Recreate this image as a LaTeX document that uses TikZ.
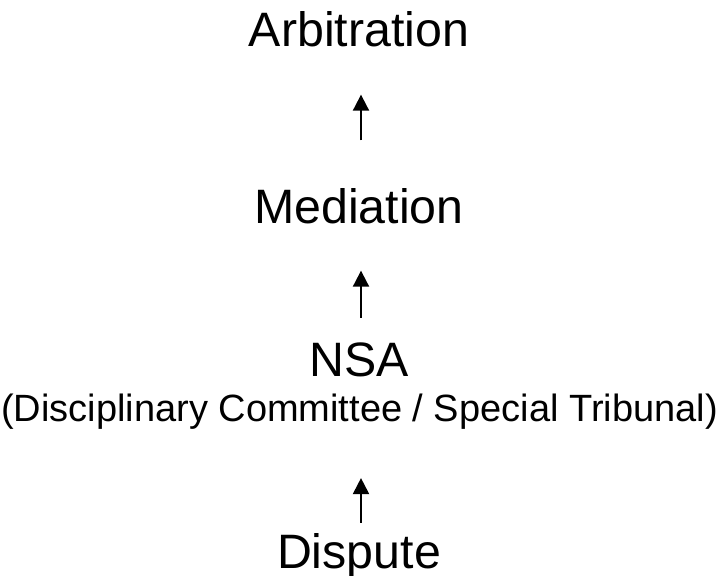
\documentclass[tikz,border=0pt]{standalone}
\usepackage{fontspec}
\setmainfont{Liberation Sans}
\usetikzlibrary{arrows.meta}
\begin{document}
\begin{tikzpicture}[x=1pt,y=1pt,
  big/.style={inner sep=0pt,anchor=base,font=\fontsize{48.3}{58}\selectfont},
  small/.style={inner sep=0pt,anchor=base,font=\fontsize{38}{46}\selectfont},
  arr/.style={line width=2pt,-{Triangle[length=16pt,width=16pt]}}]
\useasboundingbox (0,0) rectangle (718,-576);
\node[big] (arb) at (359,-46) {Arbitration};
\node[big] (med) at (359,-223) {Mediation};
\node[big] (nsa) at (359,-376) {NSA};
\node[small] (sub) at (359.5,-421) {(Disciplinary Committee / Special Tribunal)};
\node[big] (dis) at (359,-568) {Dispute};
\draw[arr,shorten <=10pt,shorten >=49pt] ([xshift=2pt]dis.north) -- ([xshift=2pt]dis.north |- sub.south);
\draw[arr,shorten <=24.5pt,shorten >=47pt] ([xshift=2pt]nsa.north) -- ([xshift=2pt]nsa.north |- med.south);
\draw[arr,shorten <=47.5pt,shorten >=48pt] ([xshift=2pt]med.north) -- ([xshift=2pt]med.north |- arb.south);
\end{tikzpicture}
\end{document}
